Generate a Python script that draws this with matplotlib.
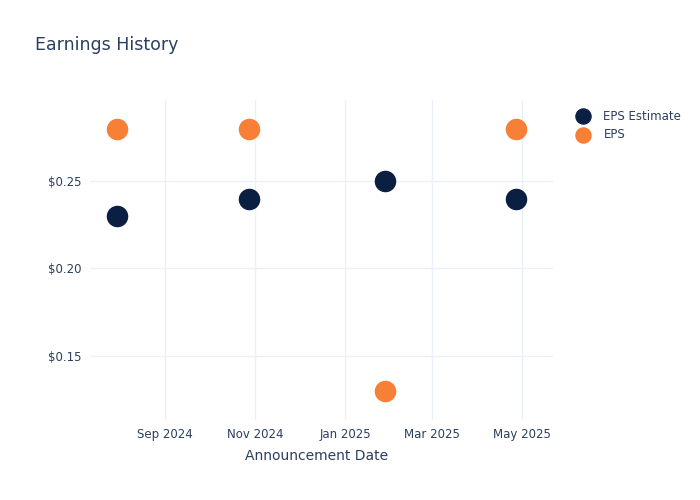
import matplotlib
matplotlib.use("Agg")
import matplotlib.pyplot as plt
import numpy as np

# announcement dates and values
dates = np.array(["2024-07-30", "2024-10-28", "2025-01-28", "2025-04-27"], dtype="datetime64[D]")
eps_estimate = [0.23, 0.24, 0.25, 0.24]
eps_actual = [0.28, 0.28, 0.13, 0.28]

tick_dates = np.array(["2024-09-01", "2024-11-01", "2025-01-01", "2025-03-01", "2025-05-01"], dtype="datetime64[D]")
tick_labels = ["Sep 2024", "Nov 2024", "Jan 2025", "Mar 2025", "May 2025"]
y_ticks = [0.15, 0.20, 0.25]

text_col = "#2a3f5f"
grid_col = "#ebf0f8"

fig = plt.figure(figsize=(7, 5), dpi=100)
ax = fig.add_axes([90 / 700, 1 - 420 / 500, (553 - 90) / 700, (420 - 100) / 500])

ax.scatter(dates, eps_estimate, s=210, color="#0b1f42", label="EPS Estimate", zorder=3)
ax.scatter(dates, eps_actual, s=210, color="#f77f36", label="EPS", zorder=3)

ax.set_xlim(np.datetime64("2024-07-12"), np.datetime64("2025-05-22"))
ax.set_ylim(0.1134, 0.2963)

ax.set_xticks(tick_dates)
ax.set_xticklabels(tick_labels)
ax.set_yticks(y_ticks)
ax.set_yticklabels([f"${v:.2f}" for v in y_ticks])

ax.grid(True, color=grid_col, linewidth=1)
ax.set_axisbelow(True)
for s in ax.spines.values():
    s.set_visible(False)
ax.tick_params(length=0, labelsize=8.5, colors=text_col, pad=6)

ax.set_xlabel("Announcement Date", fontsize=10, color=text_col)
ax.xaxis.set_label_coords((317 - 90) / (553 - 90), (420 - 456) / 320)
ax.xaxis.label.set_va("center")
fig.text(35 / 700, 1 - 45 / 500, "Earnings History", fontsize=12.5, color=text_col, va="center")

leg = ax.legend(loc="upper left", bbox_to_anchor=(1.03, 0.985), frameon=False,
                fontsize=8.5, labelcolor=text_col, handletextpad=0.7,
                borderaxespad=0, labelspacing=0.45, markerscale=0.75)

fig.savefig("out.png", dpi=100, facecolor="white")
